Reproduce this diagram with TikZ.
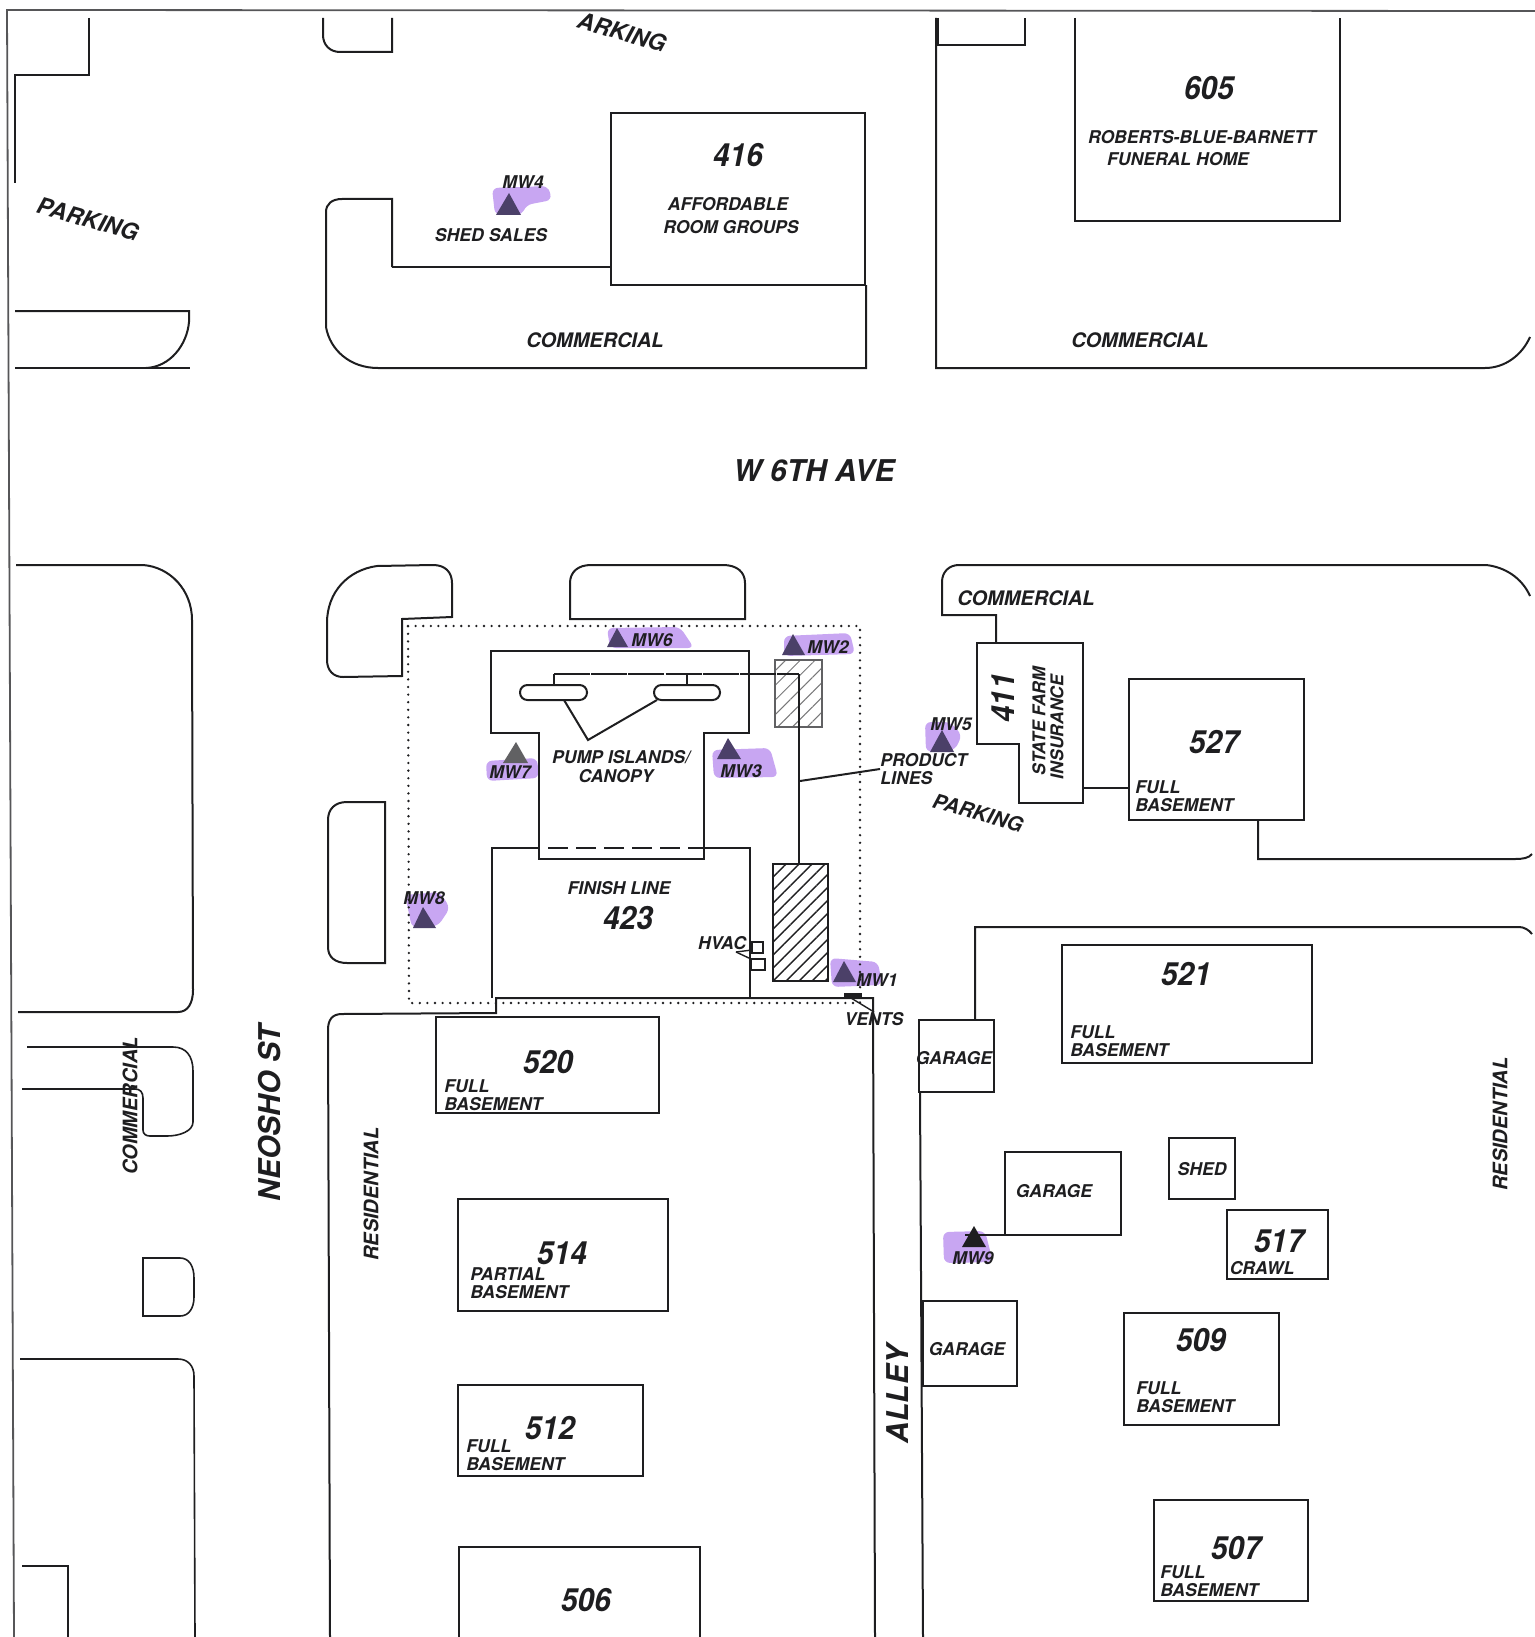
\documentclass[tikz,border=0pt]{standalone}
\usepackage{fontspec}
\setmainfont{TeX Gyre Heros}
\newfontfamily\numfont{TeX Gyre Heros}[FakeStretch=0.93]
\usetikzlibrary{patterns.meta}
\definecolor{ink}{HTML}{1E1E20}
\definecolor{marker}{HTML}{C8A6F2}
\definecolor{mwdark}{HTML}{4B4068}
\begin{document}
\begin{tikzpicture}[x=0.5pt,y=-0.5pt,
    lot/.style={draw=ink,line width=1pt,line join=miter},
    frame/.style={draw=ink!75,line width=0.9pt},
    lbl/.style={font=\fontsize{8.8}{9.25}\selectfont\bfseries\itshape,text=ink,inner sep=0pt,align=left},
    zone/.style={font=\fontsize{10}{11}\selectfont\bfseries\itshape,text=ink,inner sep=0pt},
    park/.style={font=\fontsize{11.5}{12}\selectfont\bfseries\itshape,text=ink,inner sep=0pt,rotate=-16},
    num/.style={font=\numfont\fontsize{16}{18}\selectfont\bfseries\itshape,text=ink,inner sep=0pt},
    street/.style={font=\fontsize{15}{17}\selectfont\bfseries\itshape,text=ink,inner sep=0pt},
    hilite/.style={fill=marker,rounded corners=3pt},
    mwtri/.style={fill=mwdark},
    tank/.style={draw=ink,line width=1pt,pattern={Lines[angle=45,distance=4.6pt,line width=0.7pt]},pattern color=ink}]
    \useasboundingbox (0,0) rectangle (1535,1637);

    \fill[hilite] (492,188) -- (520,187) -- (548,186) -- (552,200) -- (526,205) -- (522,215) -- (495,215) -- cycle;
    \fill[hilite] (607,628) -- (680,627) -- (694,648) -- (610,648) -- cycle;
    \fill[hilite] (784,636) -- (850,633) -- (855,654) -- (784,656) -- cycle;
    \fill[hilite] (712,750) -- (770,748) -- (778,777) -- (714,778) -- cycle;
    \fill[hilite] (486,761) -- (537,758) -- (539,778) -- (487,781) -- cycle;
    \fill[hilite] (405,895) -- (440,892) -- (450,908) -- (438,926) -- (412,928) -- cycle;
    \fill[hilite] (830,958) -- (878,962) -- (882,985) -- (832,987) -- cycle;
    \fill[hilite] (925,722) -- (950,722) -- (962,735) -- (955,750) -- (926,752) -- cycle;
    \fill[hilite] (943,1232) -- (985,1231) -- (993,1262) -- (944,1263) -- cycle;

    \draw[frame] (1535,11) -- (7,10) -- (14,1637);
    \draw[lot] (89,18) -- (89,75) -- (15,75) -- (15,183);
    \draw[lot] (15,311) -- (189,311) -- (189,322) .. controls (187,345) and (170,367) .. (146,368);
    \draw[lot] (15,368) -- (190,368);
    \draw[lot] (323,18) -- (323,35) .. controls (323,45) and (330,52) .. (340,52) -- (392,52) -- (392,18);

    \draw[lot] (392,267) -- (392,199) -- (342,199) .. controls (332,199) and (326,204) .. (326,212) -- (326,327) .. controls (330,350) and (350,368) .. (378,368) -- (866,368) -- (866,285);
    \draw[lot] (392,267) -- (611,267);
    \draw[lot] (611,113) rectangle (865,285);

    \draw[lot] (938,18) -- (938,45) -- (1025,45) -- (1025,18);
    \draw[lot] (936,18) -- (936,368) -- (1485,368) .. controls (1505,368) and (1522,355) .. (1530,337);
    \draw[lot] (1075,18) -- (1075,221) -- (1340,221) -- (1340,18);

    \draw[lot] (16,565) -- (143,565) .. controls (170,567) and (192,590) .. (192,620) -- (193,990) .. controls (193,1003) and (188,1012) .. (178,1012) -- (18,1012);
    \draw[lot] (452,617) -- (452,583) .. controls (452,572) and (445,565) .. (433,565) -- (377,566) .. controls (348,570) and (327,592) .. (327,623) -- (327,660) .. controls (327,670) and (333,677) .. (343,677) -- (402,676) -- (402,619) -- cycle;
    \draw[lot] (385,802) -- (347,802) .. controls (335,802) and (328,809) .. (328,820) -- (328,947) .. controls (328,957) and (335,963) .. (347,963) -- (385,963) -- cycle;
    \draw[lot] (570,619) -- (570,583) .. controls (570,572) and (578,565) .. (591,565) -- (723,565) .. controls (737,565) and (745,572) .. (745,583) -- (745,619) -- cycle;

    \draw[lot,line cap=round,line width=1.3pt,dash pattern=on 0pt off 3.8pt] (408,626) -- (860,626) -- (860,1003) -- (409,1003) -- cycle;

    \draw[lot] (539,848) -- (539,859) -- (704,859) -- (704,733) -- (749,733) -- (749,651) -- (491,651) -- (491,733) -- (539,733) -- (539,848);
    \draw[lot] (539,848) -- (492,848) -- (492,998);
    \draw[lot] (704,848) -- (750,848) -- (750,998);
    \draw[lot,dash pattern=on 10pt off 4pt] (548,848) -- (704,848);
    \draw[lot] (330,1637) -- (328,1030) .. controls (328,1020) and (332,1014) .. (342,1014) -- (496,1013) -- (496,998) -- (873,998) -- (875,1637);

    \draw[lot,rounded corners=3.7pt] (520,685) rectangle (587,700);
    \draw[lot,rounded corners=3.7pt] (654,685) rectangle (720,700);
    \draw[lot] (564,700) -- (588,740) -- (657,700);
    \draw[tank,draw=ink!70,pattern={Lines[angle=45,distance=5.2pt,line width=0.5pt]},pattern color=ink!60] (775,660) rectangle (822,727);
    \draw[tank] (773,864) rectangle (828,981);
    \draw[lot] (554,685) -- (554,674);
    \draw[lot] (687,685) -- (687,674);
    \draw[lot,dash pattern=on 18pt off 0.6pt] (554,674) -- (799,674);
    \draw[lot] (799,674) -- (799,864);

    \draw[lot,line width=0.8pt] (752,942) rectangle (763,953);
    \draw[lot,line width=0.8pt] (751,959) rectangle (765,970);
    \fill[ink] (844,993) rectangle (862,998);

    \draw[lot] (996,643) -- (996,615) -- (942,615) -- (942,582) .. controls (942,572) and (949,565) .. (959,565) -- (1486,565) .. controls (1505,567) and (1522,578) .. (1530,596);
    \draw[lot] (977,643) -- (1083,643) -- (1083,803) -- (1019,803) -- (1019,744) -- (977,744) -- cycle;
    \draw[lot] (1129,679) rectangle (1304,820);
    \draw[lot] (1083,788) -- (1129,788);
    \draw[lot] (1258,820) -- (1258,859) -- (1515,859) .. controls (1523,859) and (1529,858) .. (1532,854);
    \draw[lot] (920,1092) -- (923,1637);
    \draw[lot] (919,1020) rectangle (994,1092);
    \draw[lot] (975,1020) -- (975,927) -- (1519,927) .. controls (1524,927) and (1529,930) .. (1532,934);
    \draw[lot] (1062,945) rectangle (1312,1063);
    \draw[lot] (1005,1152) rectangle (1121,1235);
    \draw[lot] (965,1235) -- (1005,1235);
    \draw[lot] (1169,1138) rectangle (1235,1199);
    \draw[lot] (1227,1210) rectangle (1328,1279);
    \draw[lot] (923,1301) rectangle (1017,1386);
    \draw[lot] (1124,1313) rectangle (1279,1425);
    \draw[lot] (1154,1500) rectangle (1308,1601);

    \draw[lot] (436,1017) rectangle (659,1113);
    \draw[lot] (458,1199) rectangle (668,1311);
    \draw[lot] (458,1385) rectangle (643,1476);
    \draw[lot] (459,1637) -- (459,1547) -- (700,1547) -- (700,1637);

    \draw[lot,line width=0.8pt] (27,1047) -- (173,1047) .. controls (186,1047) and (193,1056) .. (193,1071) -- (193,1122) .. controls (193,1131) and (180,1136) .. (167,1136) -- (150,1136) .. controls (146,1136) and (143,1134) .. (143,1130) -- (143,1098) .. controls (143,1092) and (140,1089) .. (135,1089) -- (22,1089);
    \draw[lot,line width=0.8pt] (136,1039) -- (136,1047);
    \draw[lot,line width=0.8pt] (143,1258) -- (180,1258) .. controls (189,1258) and (194,1266) .. (194,1278) -- (194,1297) .. controls (194,1308) and (189,1316) .. (180,1316) -- (143,1316) -- cycle;
    \draw[lot,line width=0.8pt] (20,1359) -- (178,1359) .. controls (188,1359) and (194,1366) .. (194,1376) -- (195,1637);
    \draw[lot,line width=0.8pt] (22,1566) -- (68,1566) -- (68,1637);

    \fill[mwtri] (509,193) -- (496,215) -- (521,215) -- cycle;
    \fill[mwtri] (617,628) -- (607,647) -- (628,647) -- cycle;
    \fill[mwtri] (793,634) -- (782,655) -- (805,655) -- cycle;
    \fill[mwtri] (728,738) -- (717,759) -- (741,759) -- cycle;
    \fill[mwtri,fill=ink!70] (516,742) -- (503,763) -- (528,763) -- cycle;
    \fill[mwtri] (423,907) -- (413,928) -- (436,928) -- cycle;
    \fill[mwtri] (844,961) -- (833,982) -- (856,982) -- cycle;
    \fill[mwtri] (942,730) -- (930,752) -- (954,752) -- cycle;
    \fill[mwtri,fill=ink] (974,1226) -- (962,1247) -- (986,1247) -- cycle;

    \node[lbl] (mw1) at (877,980) {MW1};
    \node[lbl] (mw2) at (828,647) {MW2};
    \node[lbl] (mw3) at (741,771) {MW3};
    \node[lbl] (mw4) at (523,182) {MW4};
    \node[lbl] (mw5) at (951,724) {MW5};
    \node[lbl] (mw6) at (652,640) {MW6};
    \node[lbl] (mw7) at (510,772) {MW7};
    \node[lbl] (mw8) at (424,898) {MW8};
    \node[lbl] (mw9) at (973,1258) {MW9};

    \node[park] (parkleft) at (88,219) {PARKING};
    \node[park] (parktop) at (622,32) {ARKING};
    \node[park,font=\fontsize{10.2}{11}\selectfont\bfseries\itshape] (parkright) at (978,813) {PARKING};

    \node[lbl] (shed) at (491,235) {SHED SALES};
    \node[num] (n416) at (738,155) {416};
    \node[lbl] (affordable) at (728,204) {AFFORDABLE};
    \node[lbl] (roomgroups) at (731,227) {ROOM GROUPS};
    \node[zone] (commtop) at (595,340) {COMMERCIAL};
    \node[num] (n605) at (1209,88) {605};
    \node[lbl,font=\fontsize{8.8}{9.25}\selectfont\bfseries\itshape] (roberts) at (1202,137) {ROBERTS-BLUE-BARNETT};
    \node[lbl] (funeral) at (1178,159) {FUNERAL HOME};
    \node[zone] (commright) at (1140,340) {COMMERCIAL};
    \node[street] (ave) at (814,471) {W 6TH AVE};
    \node[zone] (commmid) at (1026,598) {COMMERCIAL};

    \node[lbl] (pump) at (621,757) {PUMP ISLANDS/};
    \node[lbl] (canopy) at (616,776) {CANOPY};
    \node[lbl] (finish) at (619,888) {FINISH LINE};
    \node[num] (n423) at (628,918) {423};
    \node[lbl] (hvac) at (722,943) {HVAC};
    \node[lbl,anchor=west] (prodlines) at (880,769) {PRODUCT\\LINES};
    \node[lbl] (vents) at (874,1019) {VENTS};
    \coordinate (prodjoin) at (800,781);
    \coordinate (ventjoin) at (851,998);
    \coordinate (hvacleft) at (736,952);
    \coordinate (hvacup) at (752,950);
    \coordinate (hvacdown) at (751,959);
    \path[lot] (prodjoin) edge (prodlines.west);
    \path[lot,line width=0.7pt] (ventjoin) edge (vents.north);
    \path[lot,line width=0.7pt] (hvacleft) edge (hvacup) (hvacleft) edge (hvacdown);

    \node[num,rotate=90] (n411) at (1003,698) {411};
    \node[lbl,rotate=90] (statefarm) at (1039,721) {STATE FARM};
    \node[lbl,rotate=90] (insurance) at (1057,727) {INSURANCE};
    \node[num] (n527) at (1214,742) {527};
    \node[lbl,anchor=west] (base527) at (1135,796) {FULL\\BASEMENT};
    \node[num] (n521) at (1186,974) {521};
    \node[lbl,anchor=west] (base521) at (1070,1041) {FULL\\BASEMENT};
    \node[lbl] (garagea) at (954,1058) {GARAGE};
    \node[lbl] (garageb) at (1054,1191) {GARAGE};
    \node[lbl] (garagec) at (967,1349) {GARAGE};
    \node[lbl] (shedbox) at (1202,1169) {SHED};
    \node[num] (n517) at (1279,1241) {517};
    \node[lbl] (crawl) at (1262,1268) {CRAWL};
    \node[num] (n509) at (1201,1340) {509};
    \node[lbl,anchor=west] (base509) at (1136,1397) {FULL\\BASEMENT};
    \node[num] (n507) at (1236,1548) {507};
    \node[lbl,anchor=west] (base507) at (1160,1581) {FULL\\BASEMENT};
    \node[zone,rotate=90] (resright) at (1500,1124) {RESIDENTIAL};

    \node[num] (n520) at (548,1062) {520};
    \node[lbl,anchor=west] (base520) at (444,1095) {FULL\\BASEMENT};
    \node[num] (n514) at (562,1253) {514};
    \node[lbl,anchor=west] (base514) at (470,1283) {PARTIAL\\BASEMENT};
    \node[num] (n512) at (550,1428) {512};
    \node[lbl,anchor=west] (base512) at (466,1455) {FULL\\BASEMENT};
    \node[num] (n506) at (586,1600) {506};
    \node[zone,rotate=90] (resleft) at (371,1194) {RESIDENTIAL};
    \node[zone,rotate=90] (commside) at (130,1106) {COMMERCIAL};
    \node[street,rotate=90] (neosho) at (270,1113) {NEOSHO ST};
    \node[street,rotate=90] (alley) at (898,1394) {ALLEY};
\end{tikzpicture}
\end{document}
